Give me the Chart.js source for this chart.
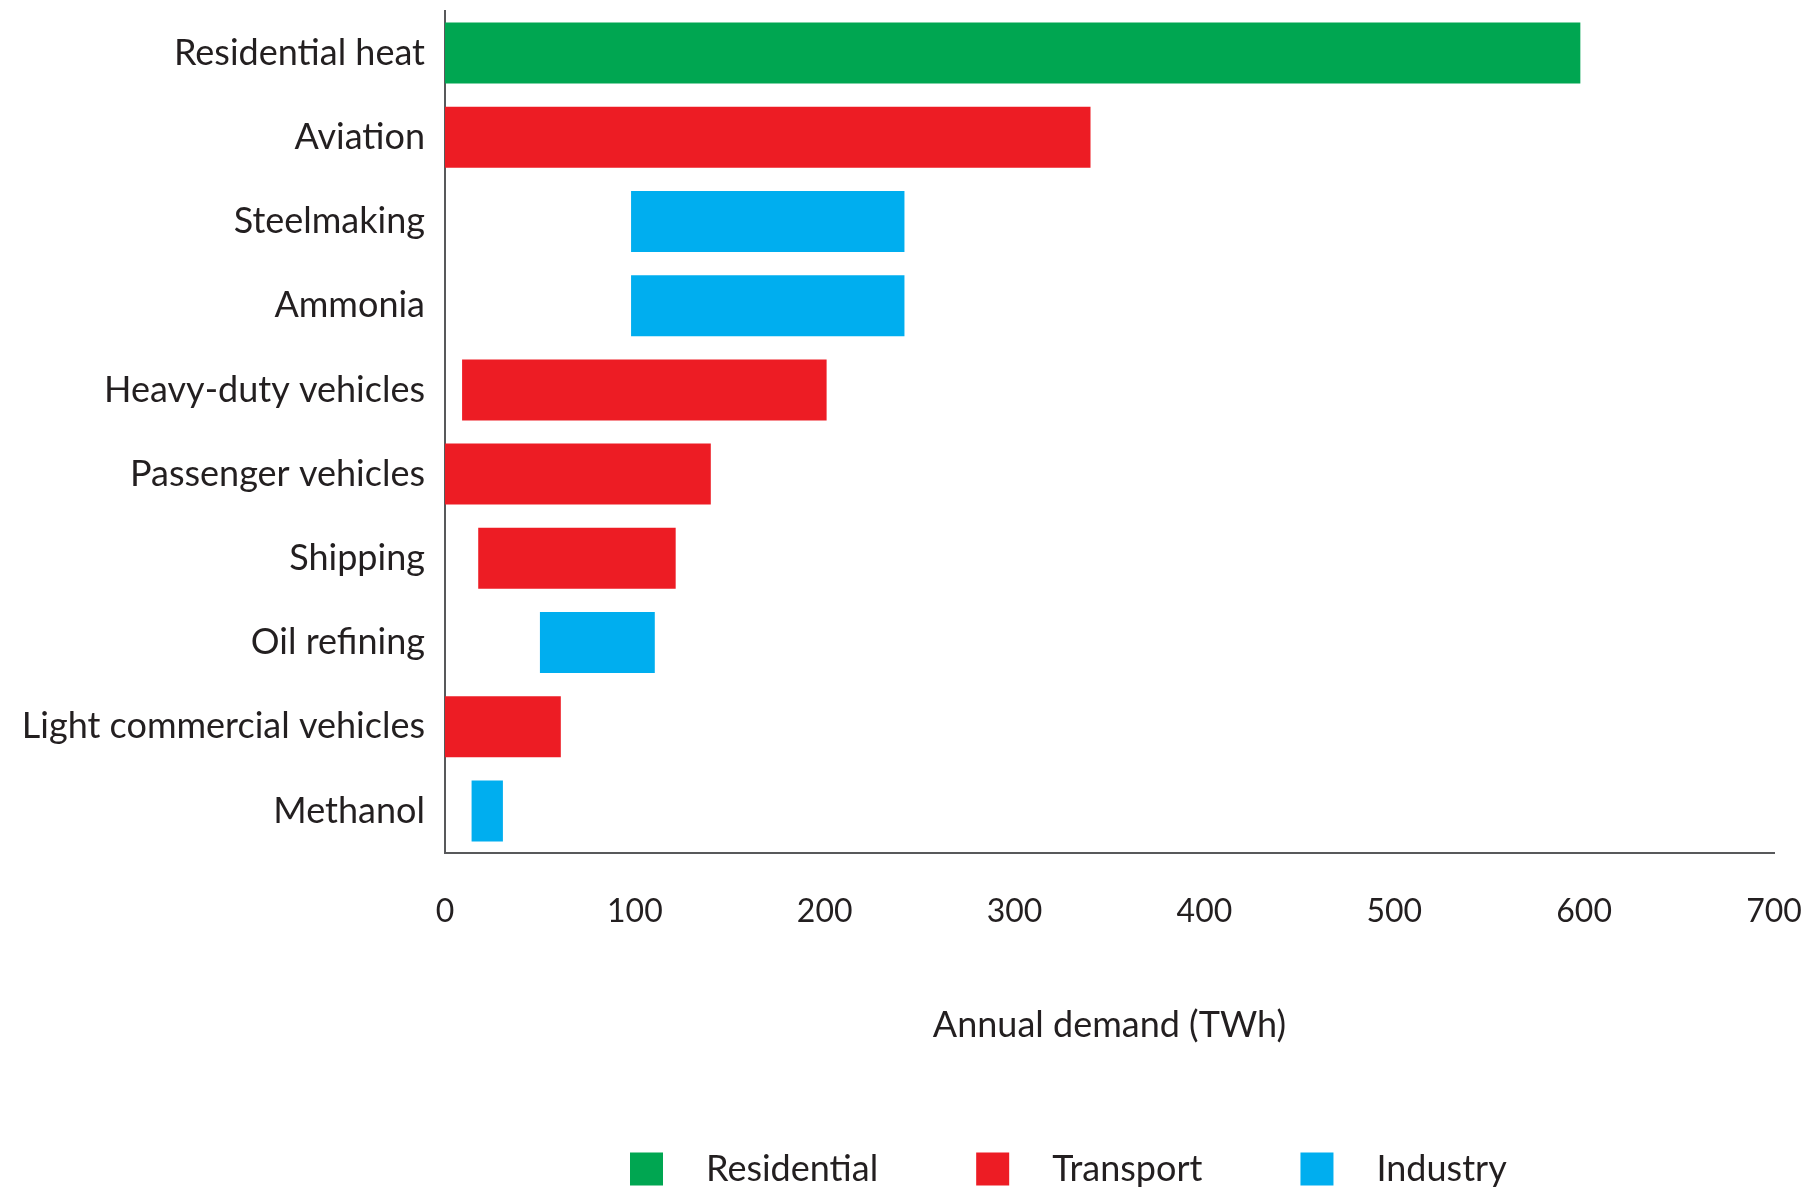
<!DOCTYPE html>
<html>
<head>
<meta charset="utf-8">
<script src="https://cdn.jsdelivr.net/npm/chart.js@4.4.1/dist/chart.umd.min.js"></script>
<style>
    html, body { margin: 0; padding: 0; background: #ffffff; }
    #wrap { width: 1810px; height: 1190px; }
</style>
</head>
<body>
<div id="wrap"><canvas id="demandChart" width="1810" height="1190"></canvas></div>
<script>
/* DATA */
const categories = [
    "Residential heat",
    "Aviation",
    "Steelmaking",
    "Ammonia",
    "Heavy-duty vehicles",
    "Passenger vehicles",
    "Shipping",
    "Oil refining",
    "Light commercial vehicles",
    "Methanol"
];

const sectorOf = [
    "Residential", "Transport", "Industry", "Industry", "Transport",
    "Transport", "Transport", "Industry", "Transport", "Industry"
];

const lowValues = [0, 0, 98, 98, 9, 0, 17.5, 50, 0, 14];
const highValues = [598, 340, 242, 242, 201, 140, 121.5, 110.5, 61, 30.5];

const sectors = ["Residential", "Transport", "Industry"];
const sectorColors = ["#00a651", "#ed1c24", "#00aeef"];

const xTicks = [0, 100, 200, 300, 400, 500, 600, 700];

const textColor = "#231f20";
const fontName = "Lato, 'Open Sans', sans-serif";

/* LEGEND (drawn on canvas) */
const sectorLegend = {
    id: "sectorLegend",
    afterDraw(chart) {
        const ctx = chart.ctx;
        const box = 33;
        const yMid = 1169;
        let x = 630;

        ctx.save();
        ctx.font = "36px " + fontName;
        ctx.textBaseline = "middle";
        ctx.textAlign = "left";

        sectors.forEach((name, i) => {
            ctx.fillStyle = sectorColors[i];
            ctx.fillRect(x, yMid - box / 2, box, box);

            const tx = x + box + 43;
            ctx.fillStyle = textColor;
            ctx.fillText(name, tx, yMid);

            x = tx + ctx.measureText(name).width + 98;
        });

        ctx.restore();
    }
};

/* CHART */
const barData = categories.map((c, i) => [lowValues[i], highValues[i]]);
const barColors = sectorOf.map(s => sectorColors[sectors.indexOf(s)]);

new Chart(document.getElementById("demandChart"), {
    type: "bar",
    data: {
        labels: categories,
        datasets: [
            {
                data: barData,
                backgroundColor: barColors,
                borderWidth: 0,
                categoryPercentage: 1,
                barPercentage: 0.725
            }
        ]
    },
    options: {
        indexAxis: "y",
        responsive: false,
        animation: false,
        layout: {
            padding: { top: 11, right: 36, bottom: 0, left: 0 }
        },
        plugins: {
            legend: { display: false },
            tooltip: { enabled: false }
        },
        scales: {
            x: {
                type: "linear",
                min: xTicks[0],
                max: xTicks[xTicks.length - 1],
                afterBuildTicks: (scale) => {
                    scale.ticks = xTicks.map(v => ({ value: v }));
                },
                afterFit: (scale) => {
                    scale.height = 337;
                    scale.paddingLeft = 0;
                    scale.paddingRight = 0;
                },
                grid: { display: false, drawTicks: false },
                border: { display: true, color: "#58595b", width: 2 },
                ticks: {
                    color: textColor,
                    padding: 39,
                    maxRotation: 0,
                    font: { family: fontName, size: 32 }
                },
                title: {
                    display: true,
                    text: "Annual demand (TWh)",
                    color: textColor,
                    font: { family: fontName, size: 36 },
                    padding: { top: 0, bottom: 143 }
                }
            },
            y: {
                afterFit: (scale) => {
                    scale.width = 445;
                    scale.paddingTop = 0;
                    scale.paddingBottom = 0;
                },
                grid: { display: false, drawTicks: false },
                border: { display: true, color: "#58595b", width: 2 },
                ticks: {
                    color: textColor,
                    padding: 20,
                    autoSkip: false,
                    font: { family: fontName, size: 36 }
                }
            }
        }
    },
    plugins: [sectorLegend]
});
</script>
</body>
</html>
